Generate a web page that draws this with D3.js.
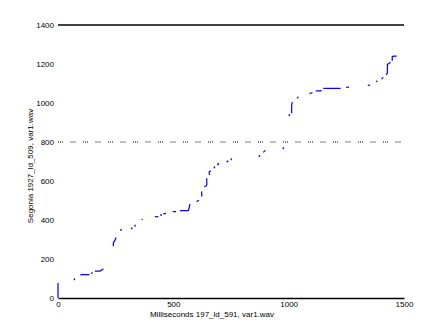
<!DOCTYPE html>
<html>
<head>
<meta charset="utf-8">
<script src="https://cdn.jsdelivr.net/npm/d3@7"></script>
<style>
  body { margin: 0; background: #fff; }
  svg { display: block; }
  .tick text, .axis-label { font-family: "Liberation Sans", Arial, sans-serif; font-size: 8px; fill: #000; }
</style>
</head>
<body>
<div id="chart"></div>
<script>
// --- Data ---
const xTicks = [0, 500, 1000, 1500];
const yTicks = [0, 200, 400, 600, 800, 1000, 1200, 1400];
const xTitle = "Milliseconds 197_ld_591, var1.wav";
const yTitle = "Segonia 1927_ld_509, var1.wav";
const solidLines = [1400];   // full horizontal rule
const dottedLines = [800];   // dotted horizontal rule

// warping path, split into the visible runs (single points are dots)
const warpRuns = [
  [[0, 0], [0, 77]],
  [[71, 96]],
  [[100, 116], [100, 120], [136, 120]],
  [[143, 126], [150, 130]],
  [[160, 138], [182, 138], [188, 142], [197, 150]],
  [[240, 266], [240, 284], [246, 294], [252, 310]],
  [[273, 349]],
  [[320, 357]],
  [[334, 371]],
  [[363, 400], [366, 405]],
  [[420, 417], [435, 417]],
  [[447, 426]],
  [[457, 431], [468, 434]],
  [[497, 443], [512, 443]],
  [[529, 448], [565, 448], [569, 465], [572, 482]],
  [[601, 494], [611, 501]],
  [[623, 520], [623, 546]],
  [[634, 571], [642, 574], [645, 580], [645, 614]],
  [[656, 631], [656, 648], [663, 653]],
  [[678, 670]],
  [[691, 682], [698, 691]],
  [[731, 696], [738, 704]],
  [[751, 711]],
  [[873, 728]],
  [[890, 747], [899, 757]],
  [[977, 768]],
  [[1003, 938]],
  [[1013, 947], [1013, 990], [1016, 1004]],
  [[1037, 1024], [1042, 1032]],
  [[1089, 1050], [1100, 1050], [1102, 1055]],
  [[1118, 1062], [1139, 1062], [1141, 1067]],
  [[1150, 1075], [1225, 1075]],
  [[1249, 1081], [1262, 1081]],
  [[1343, 1091], [1353, 1091]],
  [[1379, 1109], [1384, 1114]],
  [[1403, 1122], [1410, 1132]],
  [[1422, 1144], [1428, 1152], [1428, 1198], [1436, 1204], [1442, 1209]],
  [[1449, 1217], [1449, 1238], [1457, 1240], [1468, 1240]]
];

// --- Layout ---
const W = 447, H = 335;
const x = d3.scaleLinear().domain([0, 1500]).range([58, 404]);
const y = d3.scaleLinear().domain([0, 1400]).range([298, 25]);
const fmt = d3.format("d");

const svg = d3.select("#chart").append("svg")
    .attr("width", W)
    .attr("height", H);

// horizontal reference rules
svg.selectAll(".solid-rule")
    .data(solidLines)
    .enter().append("line")
    .attr("x1", x(0)).attr("x2", x(1500))
    .attr("y1", d => y(d)).attr("y2", d => y(d))
    .attr("stroke", "#000")
    .attr("stroke-width", 1.3);

svg.selectAll(".dotted-rule")
    .data(dottedLines)
    .enter().append("line")
    .attr("x1", x(0)).attr("x2", x(1500))
    .attr("y1", d => y(d)).attr("y2", d => y(d))
    .attr("stroke", "#000")
    .attr("stroke-width", 1.2)
    .attr("stroke-dasharray", "1 1 1 1 1 7.5");

// x axis
const xAxis = svg.append("g")
    .attr("transform", `translate(0,${y(0)})`)
    .call(d3.axisBottom(x).tickValues(xTicks).tickFormat(fmt).tickSize(0).tickPadding(3));
xAxis.select(".domain").attr("stroke", "#000").attr("stroke-width", 1.3);
xAxis.selectAll(".tick text").attr("font-family", null).attr("font-size", null);

// y axis (labels only)
const yAxis = svg.append("g")
    .attr("transform", `translate(${x(0)},0)`)
    .call(d3.axisLeft(y).tickValues(yTicks).tickFormat(fmt).tickSize(0).tickPadding(4));
yAxis.select(".domain").remove();
yAxis.selectAll(".tick text").attr("font-family", null).attr("font-size", null);

// warping path
const line = d3.line().x(d => x(d[0])).y(d => y(d[1]));
svg.selectAll(".run")
    .data(warpRuns.filter(r => r.length > 1))
    .enter().append("path")
    .attr("d", line)
    .attr("fill", "none")
    .attr("stroke", "#0000ff")
    .attr("stroke-width", 1.2);

svg.selectAll(".dot")
    .data(warpRuns.filter(r => r.length === 1))
    .enter().append("rect")
    .attr("x", d => x(d[0][0]) - 0.7)
    .attr("y", d => y(d[0][1]) - 0.9)
    .attr("width", 1.4)
    .attr("height", 1.8)
    .attr("fill", "#0000ff");

// axis titles
svg.append("text")
    .attr("class", "axis-label")
    .attr("x", 212)
    .attr("y", 317)
    .attr("text-anchor", "middle")
    .text(xTitle);

svg.append("text")
    .attr("class", "axis-label")
    .attr("transform", "translate(33,166) rotate(-90)")
    .attr("text-anchor", "middle")
    .text(yTitle);
</script>
</body>
</html>
